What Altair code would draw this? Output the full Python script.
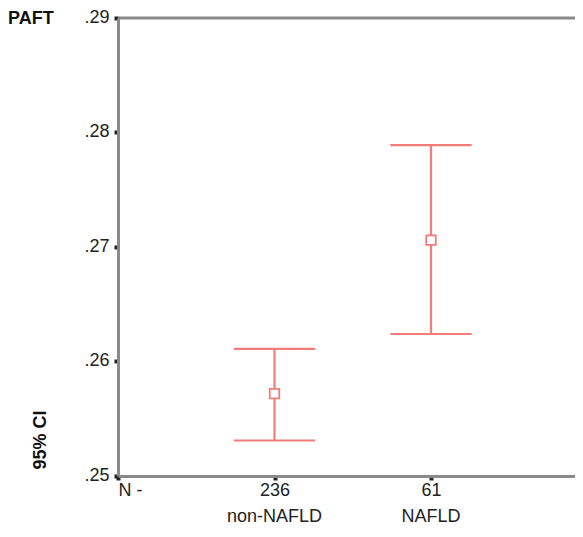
import altair as alt
import pandas as pd

groups = ["non-NAFLD", "NAFLD"]
counts = ["236", "61"]
xpos = [1, 2]
means = [0.2572, 0.2706]
lower = [0.2531, 0.2624]
upper = [0.2611, 0.2789]
cap_half = 0.26
y_ticks = [0.25, 0.26, 0.27, 0.28, 0.29]
x_max = 2.92

df = pd.DataFrame({
    "group": groups, "n": counts, "x": xpos, "mean": means,
    "lo": lower, "hi": upper,
})
df["xl"] = df["x"] - cap_half
df["xr"] = df["x"] + cap_half

RED = "#f27c78"
GRAY = "#8a8a8a"
FONT = "Liberation Sans"
FS = 18
W, H = 457, 458

xs = alt.Scale(domain=[0, x_max], nice=False, zero=False)
ys = alt.Scale(domain=[0.25, 0.29], nice=False, zero=False)

label_map = "{'0': 'N -', '1': '236', '2': '61'}"

base = alt.Chart(df)

vline = base.mark_rule(color=RED, strokeWidth=2.2).encode(
    x=alt.X("x:Q", scale=xs, axis=alt.Axis(
        values=[0, 1, 2], title=None, grid=False,
        labelExpr=label_map + "[toString(datum.value)]",
        domainColor=GRAY, domainWidth=3,
        tickColor="#222", tickSize=4, tickWidth=4,
        labelFont=FONT, labelFontSize=FS, labelColor="#222", labelPadding=1,
    )),
    y=alt.Y("lo:Q", scale=ys, axis=alt.Axis(
        values=y_ticks, title=None, grid=False,
        labelExpr="replace(format(datum.value, '.2f'), '0.', '.')",
        domainColor=GRAY, domainWidth=3,
        tickColor="#222", tickSize=4, tickWidth=4,
        labelFont=FONT, labelFontSize=FS, labelColor="#222",
        labelPadding=5, labelBaseline="middle", labelOffset=-1,
    )),
    y2="hi:Q",
)

cap_top = base.mark_rule(color=RED, strokeWidth=2.2).encode(
    x=alt.X("xl:Q", scale=xs), x2="xr:Q", y=alt.Y("hi:Q", scale=ys)
)
cap_bot = base.mark_rule(color=RED, strokeWidth=2.2).encode(
    x=alt.X("xl:Q", scale=xs), x2="xr:Q", y=alt.Y("lo:Q", scale=ys)
)
pts = base.mark_point(shape="square", filled=False, fill="white",
                      fillOpacity=1, size=90, stroke=RED,
                      strokeWidth=1.8, opacity=1).encode(
    x=alt.X("x:Q", scale=xs), y=alt.Y("mean:Q", scale=ys)
)

top_line = alt.Chart(pd.DataFrame({"a": [0]})).mark_rule(
    color=GRAY, strokeWidth=3).encode(
    x=alt.datum(0, scale=xs), x2=alt.datum(x_max), y=alt.datum(0.29, scale=ys)
)

grp_text = base.mark_text(font=FONT, fontSize=FS, color="#222",
                          baseline="middle").encode(
    x=alt.X("x:Q", scale=xs), y=alt.value(H + 41), text="group:N"
)

title_txt = alt.Chart(pd.DataFrame({"t": ["PAFT"]})).mark_text(
    font=FONT, fontSize=FS, fontWeight="bold", color="#111",
    align="left", baseline="middle").encode(
    x=alt.value(-110), y=alt.value(1), text="t:N"
)
ci_txt = alt.Chart(pd.DataFrame({"t": ["95% CI"]})).mark_text(
    font=FONT, fontSize=FS, fontWeight="bold", color="#111",
    align="center", baseline="middle", angle=270).encode(
    x=alt.value(-77), y=alt.value(422), text="t:N"
)

chart = alt.layer(
    top_line, vline, cap_top, cap_bot, pts, grp_text, title_txt, ci_txt
).properties(
    width=W, height=H,
    autosize=alt.AutoSizeParams(type="none"),
    padding={"left": 110, "top": 10, "right": 0, "bottom": 53},
).configure_view(stroke=None).configure(background="white")

chart.save("out.html", embed_options={"renderer": "svg", "actions": False})
